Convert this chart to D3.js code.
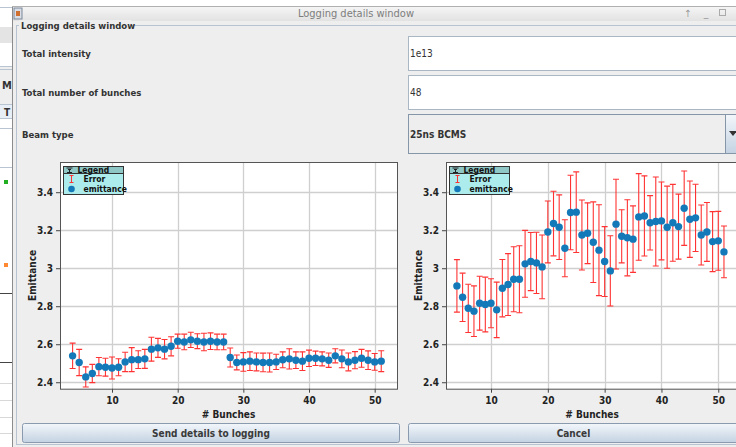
<!DOCTYPE html>
<html>
<head>
<meta charset="utf-8">
<script src="https://cdn.jsdelivr.net/npm/d3@7"></script>
<style>
  html, body { margin: 0; padding: 0; background: #ffffff; }
  svg { display: block; }
  text { font-family: "DejaVu Sans Condensed", "DejaVu Sans", sans-serif; }
</style>
</head>
<body>
<svg id="win" width="736" height="447"></svg>
<script>
// form content
const fieldLabels = ["Total intensity", "Total number of bunches", "Beam type"];
const fieldValues = ["1e13", "48", "25ns BCMS"];

// bunch numbers (x) shared by both charts
const bunches = [4, 5, 6, 7, 8, 9, 10, 11, 12, 13, 14, 15, 16, 17, 18, 19, 20, 21, 22, 23, 24, 25, 26, 27,
                 28, 29, 30, 31, 32, 33, 34, 35, 36, 37, 38, 39, 40, 41, 42, 43, 44, 45, 46, 47, 48, 49, 50, 51];

// left chart
const leftEmittance = [2.539, 2.504, 2.428, 2.446, 2.482, 2.479, 2.475, 2.479, 2.507, 2.519, 2.519, 2.523,
                       2.574, 2.581, 2.574, 2.589, 2.616, 2.612, 2.623, 2.616, 2.612, 2.616, 2.612, 2.612,
                       2.530, 2.504, 2.507, 2.511, 2.507, 2.504, 2.504, 2.507, 2.518, 2.523, 2.516, 2.511,
                       2.526, 2.526, 2.523, 2.516, 2.539, 2.523, 2.507, 2.516, 2.526, 2.516, 2.507, 2.511];
const leftError = [0.067, 0.069, 0.053, 0.048, 0.048, 0.047, 0.058, 0.045, 0.051, 0.063, 0.047, 0.050,
                   0.063, 0.050, 0.051, 0.050, 0.037, 0.041, 0.040, 0.039, 0.046, 0.044, 0.041, 0.041,
                   0.050, 0.039, 0.049, 0.049, 0.047, 0.049, 0.050, 0.040, 0.042, 0.053, 0.044, 0.049,
                   0.043, 0.038, 0.037, 0.038, 0.037, 0.047, 0.047, 0.045, 0.047, 0.049, 0.044, 0.055];

// right chart
const rightEmittance = [2.907, 2.847, 2.789, 2.774, 2.816, 2.809, 2.816, 2.781, 2.895, 2.914, 2.942, 2.942,
                        3.023, 3.035, 3.028, 3.007, 3.191, 3.235, 3.216, 3.105, 3.293, 3.295, 3.175, 3.184,
                        3.137, 3.095, 3.035, 2.986, 3.232, 3.168, 3.160, 3.153, 3.270, 3.275, 3.239, 3.246,
                        3.249, 3.216, 3.239, 3.219, 3.316, 3.258, 3.265, 3.175, 3.191, 3.140, 3.144, 3.086];
const rightError = [0.138, 0.127, 0.127, 0.133, 0.142, 0.144, 0.129, 0.146, 0.151, 0.163, 0.171, 0.176,
                    0.176, 0.153, 0.161, 0.168, 0.163, 0.170, 0.170, 0.150, 0.196, 0.212, 0.184, 0.160,
                    0.212, 0.239, 0.184, 0.185, 0.236, 0.140, 0.200, 0.175, 0.228, 0.211, 0.143, 0.234,
                    0.205, 0.216, 0.202, 0.171, 0.196, 0.201, 0.177, 0.158, 0.155, 0.158, 0.155, 0.136];

const xTicks = [10, 20, 30, 40, 50];
const yTicks = [2.4, 2.6, 2.8, 3, 3.2, 3.4];

const svg = d3.select("#win");

const defs = svg.append("defs");
const btnGrad = defs.append("linearGradient").attr("id", "btn").attr("x1", 0).attr("x2", 0).attr("y1", 0).attr("y2", 1);
btnGrad.append("stop").attr("offset", "0%").attr("stop-color", "#f3f7fb");
btnGrad.append("stop").attr("offset", "100%").attr("stop-color", "#c3d2e2");
const titleGrad = defs.append("linearGradient").attr("id", "title").attr("x1", 0).attr("x2", 0).attr("y1", 0).attr("y2", 1);
titleGrad.append("stop").attr("offset", "0%").attr("stop-color", "#f6f6f6");
titleGrad.append("stop").attr("offset", "100%").attr("stop-color", "#e2e2e2");

// --- app behind the dialog (left strip) ---
const back = svg.append("g");
back.append("rect").attr("x", 0).attr("y", 0).attr("width", 12).attr("height", 447).attr("fill", "#ffffff");
back.append("rect").attr("x", 0).attr("y", 27).attr("width", 12).attr("height", 16).attr("fill", "#e4e4e4");
back.append("rect").attr("x", 0).attr("y", 66).attr("width", 12).attr("height", 38).attr("fill", "#eeeeee");
back.append("rect").attr("x", 0).attr("y", 104).attr("width", 12).attr("height", 14).attr("fill", "#e8eef6");
[7, 66, 69, 104, 118, 128, 167].forEach(y =>
  back.append("line").attr("x1", 0).attr("x2", 12).attr("y1", y + 0.5).attr("y2", y + 0.5).attr("stroke", "#b8c4d2"));
[293, 362].forEach(y =>
  back.append("line").attr("x1", 0).attr("x2", 12).attr("y1", y + 0.5).attr("y2", y + 0.5).attr("stroke", "#444"));
[383, 400, 417, 433].forEach(y =>
  back.append("line").attr("x1", 0).attr("x2", 12).attr("y1", y + 0.5).attr("y2", y + 0.5).attr("stroke", "#d8d8d8"));
back.append("text").attr("x", 2).attr("y", 89).attr("font-size", 11).attr("font-weight", "bold").attr("fill", "#333").text("M");
back.append("text").attr("x", 4).attr("y", 116).attr("font-size", 10).attr("font-weight", "bold").attr("fill", "#333").text("T");
back.append("rect").attr("x", 4).attr("y", 180).attr("width", 4).attr("height", 4).attr("fill", "#22b022");
back.append("rect").attr("x", 4).attr("y", 263).attr("width", 4).attr("height", 4).attr("fill", "#ff8a33");

// --- dialog window ---
const win = svg.append("g");
win.append("rect").attr("x", 12).attr("y", 6).attr("width", 730).attr("height", 445).attr("fill", "#eeeeee");
win.append("rect").attr("x", 12).attr("y", 6).attr("width", 730).attr("height", 15).attr("fill", "url(#title)");
win.append("line").attr("x1", 12.5).attr("x2", 12.5).attr("y1", 6).attr("y2", 447).attr("stroke", "#8c8c8c");
win.append("line").attr("x1", 12).attr("x2", 736).attr("y1", 6.5).attr("y2", 6.5).attr("stroke", "#b0b0b0");
win.append("rect").attr("x", 14).attr("y", 8).attr("width", 8).attr("height", 11).attr("fill", "#d8dde6").attr("stroke", "#7a8899");
win.append("rect").attr("x", 16).attr("y", 11).attr("width", 4).attr("height", 5).attr("fill", "#d07030");
win.append("text").attr("x", 356).attr("y", 17).attr("text-anchor", "middle").attr("font-size", 11)
  .attr("fill", "#7d7d7d").text("Logging details window");
win.append("text").attr("x", 688).attr("y", 17).attr("text-anchor", "middle").attr("font-size", 10).attr("fill", "#999").text("↑");
win.append("text").attr("x", 706).attr("y", 16).attr("text-anchor", "middle").attr("font-size", 10).attr("fill", "#999").text("_");
win.append("rect").attr("x", 719.5).attr("y", 9.5).attr("width", 6).attr("height", 6).attr("fill", "none").attr("stroke", "#aaa");

// titled border
win.append("rect").attr("x", 16.5).attr("y", 25.5).attr("width", 730).attr("height", 419).attr("fill", "none").attr("stroke", "#b7c3d0");
win.append("rect").attr("x", 19).attr("y", 20).attr("width", 112).attr("height", 11).attr("fill", "#eeeeee");
win.append("text").attr("x", 21).attr("y", 29).attr("font-size", 9.5).attr("font-weight", "bold").attr("fill", "#333")
  .text("Logging details window");

// form rows
const rowY = [36.5, 75.5, 114.5];
const rowH = [34, 34, 39];
fieldLabels.forEach((lab, i) => {
  win.append("text").attr("x", 22).attr("y", rowY[i] + rowH[i] / 2 + 3.5).attr("font-size", 9.5)
    .attr("font-weight", "bold").attr("fill", "#333").text(lab);
  const isCombo = i === 2;
  win.append("rect").attr("x", 408.5).attr("y", rowY[i]).attr("width", 340).attr("height", rowH[i])
    .attr("fill", isCombo ? "#eeeeee" : "#ffffff").attr("stroke", isCombo ? "#8596a8" : "#a9b6c4");
  win.append("text").attr("x", 410).attr("y", rowY[i] + rowH[i] / 2 + 3.5).attr("font-size", 10)
    .attr("font-weight", isCombo ? "bold" : "normal").attr("fill", "#333").text(fieldValues[i]);
});
win.append("rect").attr("x", 725.5).attr("y", 114.5).attr("width", 20).attr("height", 39)
  .attr("fill", "url(#btn)").attr("stroke", "#8596a8");
win.append("path").attr("d", "M729,131 L737,131 L733,136 Z").attr("fill", "#333");

// buttons
const buttons = [{x: 22.5, w: 377, label: "Send details to logging"}, {x: 408.5, w: 340, label: "Cancel"}];
buttons.forEach(b => {
  win.append("rect").attr("x", b.x).attr("y", 423.5).attr("width", b.w).attr("height", 19).attr("rx", 2)
    .attr("fill", "url(#btn)").attr("stroke", "#8a9bb0");
  const cx = b.x + (b.label === "Cancel" ? 330 : b.w) / 2;
  win.append("text").attr("x", cx).attr("y", 437).attr("text-anchor", "middle").attr("font-size", 10)
    .attr("font-weight", "bold").attr("fill", "#3a3a3a").text(b.label);
});

// --- charts ---
function drawChart(left, right, values, errors) {
  const top = 162, bottom = 388.7;
  const x = d3.scaleLinear().domain([2.08, 53.4]).range([left, right]);
  const y = d3.scaleLinear().domain([2.366, 3.559]).range([bottom, top]);
  const g = svg.append("g");
  const clipId = "clip" + left;
  defs.append("clipPath").attr("id", clipId).append("rect")
    .attr("x", left).attr("y", top).attr("width", right - left).attr("height", bottom - top);

  g.append("rect").attr("x", left).attr("y", top).attr("width", right - left).attr("height", bottom - top).attr("fill", "#fff");

  const grid = g.append("g").attr("clip-path", `url(#${clipId})`);
  grid.selectAll(".gx").data(xTicks).join("line")
    .attr("x1", d => Math.round(x(d)) + 0.5).attr("x2", d => Math.round(x(d)) + 0.5)
    .attr("y1", top).attr("y2", bottom).attr("stroke", "#cfcfcf").attr("stroke-width", 1.3);
  grid.selectAll(".gy").data(yTicks).join("line")
    .attr("y1", d => Math.round(y(d)) + 0.5).attr("y2", d => Math.round(y(d)) + 0.5)
    .attr("x1", left).attr("x2", right).attr("stroke", "#cfcfcf").attr("stroke-width", 1.3);

  // axes
  const xAxis = g.append("g").attr("transform", `translate(0,${bottom})`)
    .call(d3.axisBottom(x).tickValues(xTicks).tickSize(4).tickPadding(4).tickFormat(d3.format("d")));
  const yAxis = g.append("g").attr("transform", `translate(${left},0)`)
    .call(d3.axisLeft(y).tickValues(yTicks).tickSize(4).tickPadding(3).tickFormat(d => d === 3 ? "3" : d3.format(".1f")(d)));
  [xAxis, yAxis].forEach(a => {
    a.select(".domain").remove();
    a.selectAll("line").attr("stroke", "#444");
    a.selectAll("text").attr("font-size", 10).attr("font-weight", "bold").attr("fill", "#222")
      .attr("font-family", '"DejaVu Sans Condensed", "DejaVu Sans", sans-serif');
  });
  g.append("rect").attr("x", left + 0.5).attr("y", top + 0.5).attr("width", right - left).attr("height", bottom - top)
    .attr("fill", "none").attr("stroke", "#555");

  // error bars + points
  const data = bunches.map((b, i) => ({b, v: values[i], e: errors[i]}));
  const marks = g.append("g").attr("clip-path", `url(#${clipId})`);
  const eb = marks.selectAll(".eb").data(data).join("g").attr("stroke", "#ff3333").attr("stroke-width", 1.1);
  eb.append("line").attr("x1", d => x(d.b)).attr("x2", d => x(d.b)).attr("y1", d => y(d.v - d.e)).attr("y2", d => y(d.v + d.e));
  eb.append("line").attr("x1", d => x(d.b) - 3).attr("x2", d => x(d.b) + 3).attr("y1", d => y(d.v + d.e)).attr("y2", d => y(d.v + d.e));
  eb.append("line").attr("x1", d => x(d.b) - 3).attr("x2", d => x(d.b) + 3).attr("y1", d => y(d.v - d.e)).attr("y2", d => y(d.v - d.e));
  marks.selectAll(".pt").data(data).join("circle")
    .attr("cx", d => x(d.b)).attr("cy", d => y(d.v)).attr("r", 3.7).attr("fill", "#1479b8");

  // axis titles
  g.append("text").attr("x", (left + Math.min(right, 736)) / 2 + (right > 736 ? 1 : 0)).attr("y", 418)
    .attr("text-anchor", "middle").attr("font-size", 10).attr("font-weight", "bold").attr("fill", "#222").text("# Bunches");
  g.append("text").attr("transform", `translate(${left - 24},${(top + bottom) / 2}) rotate(-90)`)
    .attr("text-anchor", "middle").attr("font-size", 10).attr("font-weight", "bold").attr("fill", "#222").text("Emittance");

  // legend
  const lg = g.append("g").attr("transform", `translate(${left + 3.5},166.5)`);
  lg.append("rect").attr("width", 60).attr("height", 28).attr("fill", "#acecec").attr("stroke", "#333");
  lg.append("rect").attr("width", 60).attr("height", 7).attr("fill", "#8fc6c6").attr("stroke", "#333");
  lg.append("path").attr("d", "M3,1.5 L9,1.5 M4.5,3 L7.5,3 M6,3 L6,6 M3.5,6 L8.5,6").attr("stroke", "#222").attr("stroke-width", 1);
  lg.append("text").attr("x", 14).attr("y", 6.5).attr("font-size", 8.5).attr("font-weight", "bold").attr("fill", "#111").text("Legend");
  lg.append("path").attr("d", "M6,9 L10,9 M8,9 L8,16 M6,16 L10,16").attr("stroke", "#ff3333").attr("fill", "none");
  lg.append("text").attr("x", 20).attr("y", 15.5).attr("font-size", 8.5).attr("font-weight", "bold").attr("fill", "#111").text("Error");
  lg.append("circle").attr("cx", 8).attr("cy", 22.5).attr("r", 3.3).attr("fill", "#1479b8");
  lg.append("text").attr("x", 20).attr("y", 25.5).attr("font-size", 8.5).attr("font-weight", "bold").attr("fill", "#111").text("emittance");
}

drawChart(60, 397, leftEmittance, leftError);
drawChart(446, 737.6, rightEmittance, rightError);
</script>
</body>
</html>
